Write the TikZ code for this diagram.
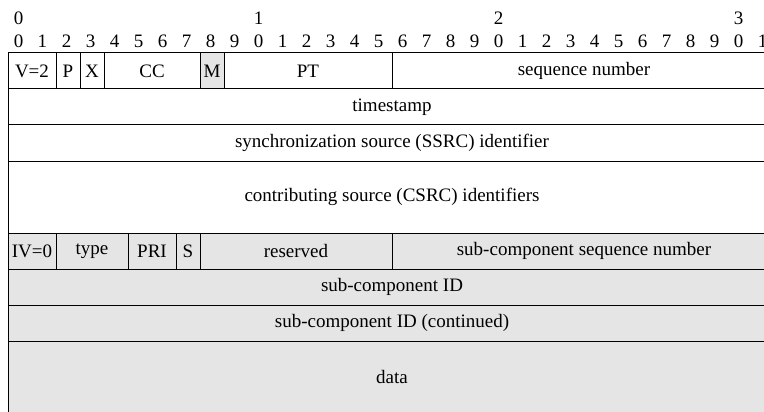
\documentclass[tikz,border=0pt]{standalone}
\usepackage{fontspec}
\setmainfont{Liberation Serif}
\usetikzlibrary{positioning}

\begin{document}
\begin{tikzpicture}[
  x=1pt, y=-1pt,
  node distance=0pt,
  every node/.style={font=\fontsize{19}{22}\selectfont, inner sep=0pt, outer sep=0pt},
  field/.style={draw, line width=1pt, minimum height=36pt},
  bits/.style={minimum width=#1*24pt},
  tall/.style={minimum height=72pt},
  shaded/.style={fill=black!10}
]
\useasboundingbox (0,0) rectangle (764,412);
\clip (0,0) rectangle (764,412);

% Bit numbers
\foreach \i in {0,10,20,30} {
  \pgfmathtruncatemacro{\tens}{\i/10}
  \node (ten\i) at (18.5+24*\i, 18.5) {\tens};
}
\foreach \i in {0,...,31} {
  \pgfmathtruncatemacro{\unit}{mod(\i,10)}
  \node (bit\i) at (18.5+24*\i, 41.5) {\unit};
}

% RTP fixed header
\node[field, bits=2, anchor=north west] (ver) at (8,53) {V=2};
\node[field, bits=1, right=of ver] (pad) {P};
\node[field, bits=1, right=of pad] (ext) {X};
\node[field, bits=4, right=of ext] (cc) {CC};
\node[field, bits=1, shaded, right=of cc] (mark) {M};
\node[field, bits=7, right=of mark] (pt) {PT};
\node[field, bits=16, right=of pt] (seq) {sequence number};
\node[field, bits=32, below=of ver.south west, anchor=north west] (ts) {timestamp};
\node[field, bits=32, below=of ts] (ssrc) {synchronization source (SSRC) identifier};
\node[field, bits=32, tall, below=of ssrc] (csrc) {contributing source (CSRC) identifiers};

% Sub-component header
\node[field, bits=2, shaded, below=of csrc.south west, anchor=north west] (iv) {IV=0};
\node[field, bits=3, shaded, right=of iv] (type) {type};
\node[field, bits=2, shaded, right=of type] (pri) {PRI};
\node[field, bits=1, shaded, right=of pri] (sbit) {S};
\node[field, bits=8, shaded, right=of sbit] (resv) {reserved};
\node[field, bits=16, shaded, right=of resv] (subseq) {sub-component sequence number};
\node[field, bits=32, shaded, below=of iv.south west, anchor=north west] (subid) {sub-component ID};
\node[field, bits=32, shaded, below=of subid] (subid2) {sub-component ID (continued)};
\node[field, bits=32, tall, shaded, below=of subid2] (data) {data};
\end{tikzpicture}
\end{document}
